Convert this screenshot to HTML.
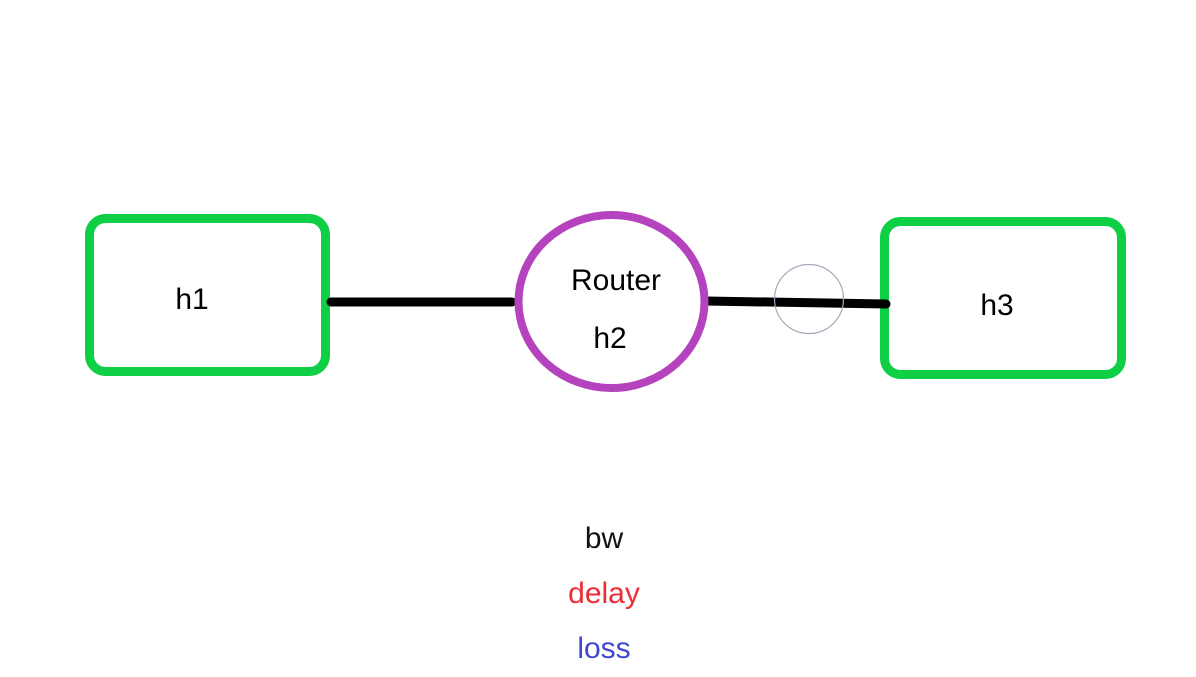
<!DOCTYPE html>
<html><head><meta charset="utf-8"><style>
html,body{margin:0;padding:0;background:#fff;}
svg{display:block;}
text{font-family:"Liberation Sans","DejaVu Sans",sans-serif;font-size:30px;text-anchor:middle;}
</style></head><body>
<svg width="1196" height="677" viewBox="0 0 1196 677" xmlns="http://www.w3.org/2000/svg">
<rect x="89.5" y="218.5" width="236" height="153" rx="16" fill="#fff" stroke="#0fcf45" stroke-width="9"/>
<rect x="884.5" y="221.5" width="237" height="153" rx="16" fill="#fff" stroke="#0fcf45" stroke-width="9"/>
<line x1="331" y1="302" x2="512" y2="302" stroke="#000" stroke-width="9" stroke-linecap="round"/>
<line x1="706" y1="301" x2="886" y2="304" stroke="#000" stroke-width="9" stroke-linecap="round"/>
<ellipse cx="611.5" cy="301.5" rx="93" ry="86.5" fill="none" stroke="#b443bd" stroke-width="8"/>
<circle cx="809" cy="299" r="34.5" fill="none" stroke="#a8a8bc" stroke-width="1.2"/>
<text x="192" y="309">h1</text>
<text x="616" y="290">Router</text>
<text x="610" y="348">h2</text>
<text x="997" y="315">h3</text>
<text x="604" y="548" fill="#111">bw</text>
<text x="604" y="603" fill="#ee2b35">delay</text>
<text x="604" y="658" fill="#4048cf">loss</text>
</svg>
</body></html>
